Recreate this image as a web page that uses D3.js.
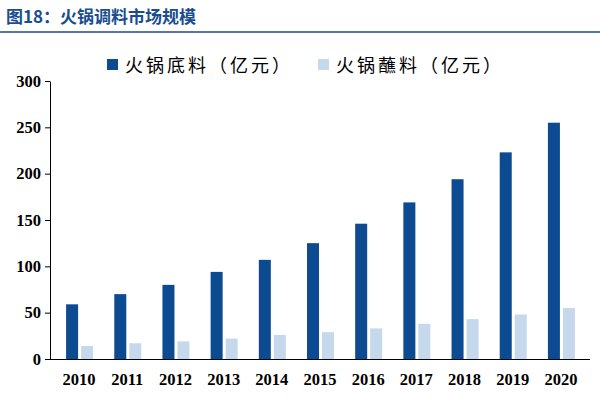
<!DOCTYPE html>
<html><head><meta charset="utf-8">
<script src="https://cdn.jsdelivr.net/npm/d3@7/dist/d3.min.js"></script>
<style>body{margin:0;background:#fff}</style></head>
<body><svg id="c" width="600" height="400"></svg>
<script>
const years = ["2010","2011","2012","2013","2014","2015","2016","2017","2018","2019","2020"];
const baseValues = [59,70,80,94,107,125,146,169,194,223,255];
const dipValues = [14,17,19,22,26,29,33,38,43,48,55];
const yTicks = [0,50,100,150,200,250,300];
const seriesNames = ["火锅底料（亿元）","火锅蘸料（亿元）"];
const colors = ["#0c4a92","#c5d8ec"];

const svg = d3.select("#c");
svg.append("text").attr("x",6).attr("y",23).text("图18：火锅调料市场规模")
  .attr("font-family","Noto Sans CJK SC").attr("font-weight","bold").attr("font-size",17).attr("fill","#1a4d8f");
svg.append("line").attr("x1",0).attr("x2",600).attr("y1",32).attr("y2",32).attr("stroke","#1a4d8f").attr("stroke-width",1.5);

const x = d3.scaleBand().domain(years).range([55,585]);
const y = d3.scaleLinear().domain([0,300]).range([359,81]);
const g = svg.append("g");
const bw = 12;
years.forEach((yr,i)=>{
  const c = x(yr)+x.bandwidth()/2;
  g.append("rect").attr("x",c-bw-1).attr("width",bw).attr("y",y(baseValues[i])).attr("height",y(0)-y(baseValues[i])).attr("fill",colors[0]);
  g.append("rect").attr("x",c+2).attr("width",bw).attr("y",y(dipValues[i])).attr("height",y(0)-y(dipValues[i])).attr("fill",colors[1]);
});
const ya = svg.append("g").attr("transform","translate(50,0)").call(d3.axisLeft(y).tickValues(yTicks).tickSize(5).tickSizeOuter(0));
const xa = svg.append("g").attr("transform","translate(0,359)").call(d3.axisBottom(x).tickSize(0).tickPadding(14));
svg.append("line").attr("x1",50).attr("x2",590).attr("y1",359.5).attr("y2",359.5).attr("stroke","#000");
xa.select(".domain").remove();
[ya,xa].forEach(a=>{a.selectAll("text").attr("font-family","Liberation Serif").attr("font-weight","bold").attr("font-size",16.5).attr("fill","#000");});
ya.selectAll("text").attr("dx",-1);
seriesNames.forEach((n,i)=>{
  const lx = [107,318][i];
  svg.append("rect").attr("x",lx).attr("y",59).attr("width",11).attr("height",11).attr("fill",colors[i]);
  svg.append("text").attr("x",lx+18).attr("y",72).text(n).attr("font-family","Noto Sans CJK SC").attr("font-size",18).attr("letter-spacing",3).attr("fill","#000");
});
</script></body></html>
